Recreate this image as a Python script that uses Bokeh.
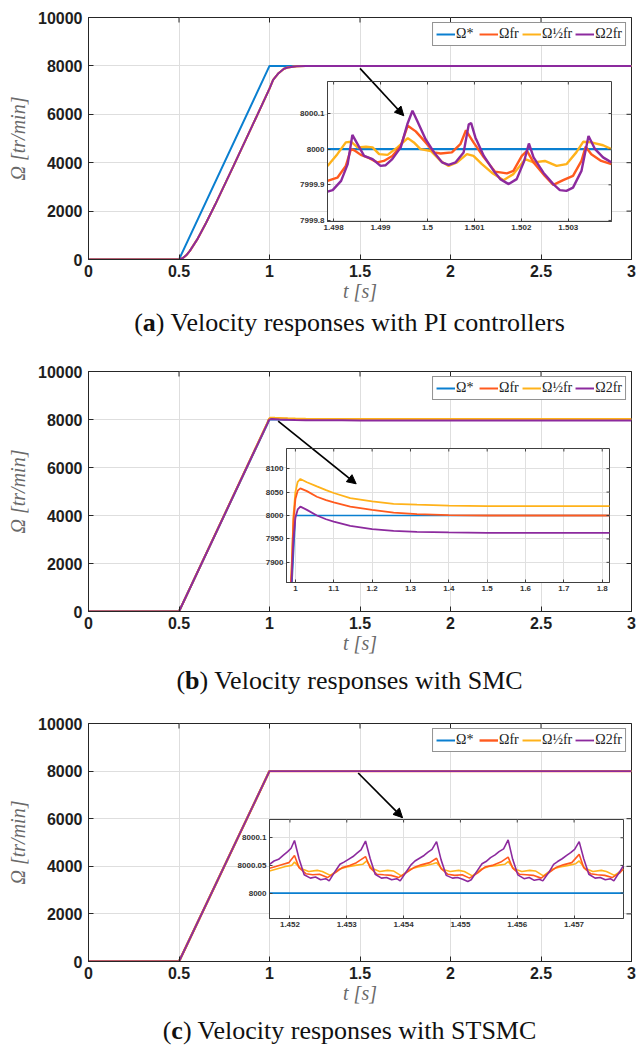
import math
from bokeh.plotting import figure
from bokeh.models import (Range1d, FixedTicker, NumeralTickFormatter,
                          Legend, LegendItem, Arrow, NormalHead, Div)
from bokeh.layouts import column
from bokeh.embed import file_html
from bokeh.resources import INLINE

# ---------------- data ----------------
LEGEND_LABELS = ["Ω*", "Ωfr", "Ω½fr", "Ω2fr"]
CAPTIONS = [("a", "Velocity responses with PI controllers"),
            ("b", "Velocity responses with SMC"),
            ("c", "Velocity responses with STSMC")]
X_TICKS_MAIN = [0, 0.5, 1, 1.5, 2, 2.5, 3]
Y_TICKS_MAIN = [0, 2000, 4000, 6000, 8000, 10000]

# reference speed (all panels)
t_ref = [0, 0.5, 1.0, 3.0]
omega_ref = [0, 0, 8000, 8000]

# panel (a) main view: PI responses (three curves overlap at this scale)
t_a_main = [0, 0.5, 0.52, 0.54, 0.56, 0.6, 0.65, 0.7, 0.8, 0.9, 1.0, 1.02, 1.05,
            1.08, 1.1, 1.15, 1.2, 1.3, 3.0]
omega_a_main = [0, 0, 50, 175, 355, 820, 1520, 2270, 3850, 5450, 7060, 7420, 7700,
                7880, 7935, 7985, 7997, 8000, 8000]

# panel (a) zoom
a_xticks = [1.498, 1.499, 1.5, 1.501, 1.502, 1.503]
a_yticks = [7999.8, 7999.9, 8000.0, 8000.1]
a_t_2fr = [1.49787, 1.49798, 1.49816, 1.4983, 1.4984, 1.49851, 1.49865, 1.49883, 1.499, 1.49911,
           1.49925, 1.49943, 1.49957, 1.49968, 1.49978, 1.49996, 1.50014, 1.50031, 1.50045, 1.5006,
           1.50077, 1.50088, 1.50093, 1.50102, 1.5012, 1.50141, 1.50155, 1.50173, 1.5019, 1.50206,
           1.50216, 1.50226, 1.50247, 1.50268, 1.50282, 1.50296, 1.5031, 1.50328, 1.50343, 1.50357,
           1.50374, 1.50392]
a_2fr = [7999.881, 7999.885, 7999.911, 7999.958, 8000.040, 8000.014, 7999.981, 7999.972, 7999.953, 7999.955,
         7999.972, 8000.005, 8000.070, 8000.108, 8000.080, 8000.028, 7999.991, 7999.963, 7999.956, 7999.963,
         7999.991, 8000.070, 8000.073, 8000.033, 7999.981, 7999.939, 7999.916, 7999.902, 7999.916, 7999.967,
         8000.016, 7999.977, 7999.934, 7999.902, 7999.885, 7999.883, 7999.892, 7999.939, 8000.037, 8000.0,
         7999.977, 7999.963]
a_t_fr = [1.49787, 1.49808, 1.49826, 1.49837, 1.49844, 1.49858, 1.49876, 1.49893, 1.49907, 1.49925,
          1.49943, 1.49958, 1.49975, 1.49996, 1.50014, 1.50028, 1.50052, 1.5007, 1.50082, 1.50098,
          1.5012, 1.50144, 1.50169, 1.50183, 1.50201, 1.50212, 1.50226, 1.5025, 1.50268, 1.50289,
          1.5031, 1.50328, 1.50337, 1.50349, 1.5037, 1.50392]
a_fr = [7999.911, 7999.920, 7999.953, 8000.0, 7999.997, 7999.984, 7999.975, 7999.963, 7999.967, 7999.981,
        8000.009, 8000.066, 8000.050, 8000.019, 7999.991, 7999.988, 7999.991, 8000.014, 8000.053, 8000.019,
        7999.977, 7999.937, 7999.932, 7999.939, 7999.981, 7999.995, 7999.963, 7999.925, 7999.900, 7999.913,
        7999.925, 7999.967, 8000.007, 7999.986, 7999.967, 7999.958]
a_t_half = [1.49787, 1.49808, 1.49826, 1.49837, 1.49851, 1.49869, 1.49883, 1.49897, 1.49915, 1.49936,
            1.49958, 1.49971, 1.49985, 1.50007, 1.50028, 1.50045, 1.50063, 1.50084, 1.50098, 1.50116,
            1.50137, 1.50162, 1.50183, 1.50208, 1.50226, 1.5025, 1.50275, 1.50296, 1.50317, 1.50332,
            1.50349, 1.50374, 1.50392]
a_half = [7999.953, 7999.986, 8000.019, 8000.021, 8000.005, 8000.007, 8000.005, 7999.986, 7999.984, 8000.005,
          8000.031, 8000.019, 8000.0, 7999.995, 7999.967, 7999.953, 7999.963, 7999.986, 7999.981, 7999.958,
          7999.934, 7999.913, 7999.930, 7999.972, 7999.963, 7999.967, 7999.953, 7999.958, 7999.991, 8000.021,
          8000.019, 8000.011, 8000.0]

# panel (b): SMC responses (main view and zoom share the data)
b_xticks = [1.0, 1.1, 1.2, 1.3, 1.4, 1.5, 1.6, 1.7, 1.8]
b_yticks = [7900, 7950, 8000, 8050, 8100]
t_b = [0, 0.5, 0.99, 0.995, 1.0, 1.006, 1.013, 1.03, 1.056, 1.08, 1.1, 1.143, 1.2, 1.256,
       1.317, 1.4, 1.5, 1.6, 1.82, 3.0]
b_fr = [0, 0, 7880, 7990, 8035, 8053, 8058, 8052, 8040, 8033, 8028, 8019, 8012, 8006,
        8003, 8001, 8000, 8000, 8000, 8000]
b_half = [0, 0, 7885, 8000, 8050, 8072, 8078, 8071, 8062, 8054, 8048, 8037, 8030, 8025,
          8023, 8021, 8020, 8020, 8020, 8020]
b_2fr = [0, 0, 7860, 7950, 7995, 8013, 8019, 8012, 8000, 7992, 7987, 7978, 7971, 7967,
         7965, 7964, 7963, 7963, 7963, 7963]

# panel (c) main view: STSMC responses overlap the reference
omega_c_main = [0, 0, 8000, 8000]

# panel (c) zoom
c_xticks = [1.452, 1.453, 1.454, 1.455, 1.456, 1.457]
c_yticks = [8000.0, 8000.05, 8000.1]
c_t_2fr = [1.45164, 1.45172, 1.45180, 1.45188, 1.45196, 1.45202, 1.45208,
           1.45216, 1.45225, 1.45236, 1.45245, 1.45254, 1.45263, 1.45269, 1.45280, 1.45288, 1.45295,
           1.45303, 1.45311, 1.45318, 1.45325, 1.45333,
           1.45341, 1.45350, 1.45361, 1.45370, 1.45379, 1.45388, 1.45394, 1.45405, 1.45413, 1.45420,
           1.45428, 1.45436, 1.45443, 1.45450, 1.45458,
           1.45466, 1.45475, 1.45486, 1.45495, 1.45504, 1.45513, 1.45519, 1.45530, 1.45538, 1.45545,
           1.45553, 1.45561, 1.45568, 1.45576, 1.45584,
           1.45592, 1.45601, 1.45612, 1.45621, 1.45630, 1.45639, 1.45645, 1.45656, 1.45664, 1.45671,
           1.45679, 1.45687, 1.45694, 1.45701, 1.45709,
           1.45717, 1.45726, 1.45737, 1.45746, 1.45755, 1.45764, 1.45770, 1.45780, 1.45787]
c_2fr = [8000.052, 8000.058, 8000.061, 8000.068, 8000.075, 8000.081, 8000.095,
         8000.062, 8000.033, 8000.027, 8000.029, 8000.024, 8000.026, 8000.022, 8000.040, 8000.052, 8000.056,
         8000.061, 8000.066, 8000.072, 8000.078, 8000.094,
         8000.063, 8000.034, 8000.027, 8000.028, 8000.024, 8000.026, 8000.022, 8000.039, 8000.051, 8000.058,
         8000.063, 8000.068, 8000.074, 8000.079, 8000.093,
         8000.060, 8000.032, 8000.027, 8000.028, 8000.025, 8000.021, 8000.024, 8000.041, 8000.053, 8000.057,
         8000.064, 8000.069, 8000.075, 8000.080, 8000.096,
         8000.061, 8000.033, 8000.026, 8000.028, 8000.023, 8000.025, 8000.022, 8000.038, 8000.052, 8000.057,
         8000.062, 8000.068, 8000.073, 8000.079, 8000.093,
         8000.062, 8000.034, 8000.027, 8000.028, 8000.024, 8000.026, 8000.022, 8000.038, 8000.050]
c_t_fr = [1.45164, 1.45175, 1.45188, 1.45198, 1.45208,
          1.45216, 1.45228, 1.45240, 1.45252, 1.45266, 1.45280, 1.45292, 1.45305, 1.45317, 1.45333,
          1.45341, 1.45353, 1.45365, 1.45378, 1.45391, 1.45405, 1.45418, 1.45431, 1.45446, 1.45458,
          1.45466, 1.45478, 1.45490, 1.45503, 1.45516, 1.45530, 1.45543, 1.45556, 1.45571, 1.45584,
          1.45592, 1.45604, 1.45616, 1.45628, 1.45642, 1.45656, 1.45668, 1.45681, 1.45696, 1.45709,
          1.45717, 1.45729, 1.45741, 1.45754, 1.45767, 1.45780, 1.45787]
c_fr = [8000.045, 8000.048, 8000.052, 8000.055, 8000.068,
        8000.046, 8000.035, 8000.033, 8000.034, 8000.028, 8000.037, 8000.046, 8000.050, 8000.055, 8000.066,
        8000.046, 8000.034, 8000.033, 8000.032, 8000.028, 8000.037, 8000.046, 8000.051, 8000.055, 8000.063,
        8000.044, 8000.034, 8000.032, 8000.033, 8000.027, 8000.036, 8000.047, 8000.050, 8000.056, 8000.065,
        8000.045, 8000.034, 8000.033, 8000.032, 8000.027, 8000.037, 8000.046, 8000.051, 8000.055, 8000.070,
        8000.046, 8000.035, 8000.033, 8000.032, 8000.028, 8000.036, 8000.044]
c_t_half = [1.45164, 1.45178, 1.45192, 1.45203, 1.45208,
            1.45218, 1.45233, 1.45248, 1.45257, 1.45271, 1.45286, 1.45300, 1.45315, 1.45328, 1.45335,
            1.45344, 1.45358, 1.45372, 1.45382, 1.45396, 1.45411, 1.45425, 1.45440, 1.45452, 1.45458,
            1.45468, 1.45482, 1.45497, 1.45507, 1.45521, 1.45536, 1.45550, 1.45565, 1.45578, 1.45584,
            1.45594, 1.45608, 1.45622, 1.45632, 1.45646, 1.45661, 1.45675, 1.45690, 1.45703, 1.45709,
            1.45719, 1.45733, 1.45748, 1.45757, 1.45771, 1.45787]
c_half = [8000.040, 8000.044, 8000.048, 8000.050, 8000.056,
          8000.045, 8000.039, 8000.041, 8000.039, 8000.032, 8000.043, 8000.047, 8000.050, 8000.052, 8000.058,
          8000.045, 8000.039, 8000.041, 8000.040, 8000.031, 8000.043, 8000.047, 8000.050, 8000.053, 8000.055,
          8000.043, 8000.039, 8000.041, 8000.039, 8000.031, 8000.043, 8000.048, 8000.050, 8000.052, 8000.057,
          8000.044, 8000.039, 8000.041, 8000.040, 8000.031, 8000.043, 8000.047, 8000.050, 8000.053, 8000.058,
          8000.045, 8000.039, 8000.041, 8000.039, 8000.032, 8000.043]

# arrows (main-axis coordinates): start t, start Ω, end t, end Ω
arrow_a = [1.50, 7900, 1.742, 5940]
arrow_b = [1.048, 7930, 1.479, 5320]
arrow_c = [1.49, 7920, 1.735, 6045]

# ---------------- style ----------------
BLUE, RED, YELLOW, PURPLE = "#0a7fd0", "#ff5a1e", "#ffb21a", "#8c2a9e"
DARK = "#262626"
GRID = "#dedede"
LEFT, RIGHT = 88, 6          # shared border widths (column aligns plot frames)
FW = 637 - LEFT - RIGHT


def box_ticks(p, xt, yt, xr, yr, tick_len, color):
    # MATLAB "box on" ticks along the top and right frame edges (clipped to the frame)
    p.scatter(xt, [yr[1]] * len(xt), marker="dash", size=2 * tick_len, angle=math.pi / 2,
              line_color=color, line_width=1)
    p.scatter([xr[1]] * len(yt), yt, marker="dash", size=2 * tick_len,
              line_color=color, line_width=1)


def make_main(g, curves, arrow, caption):
    h_main = g["top"] + g["fh"] + 50
    p = figure(frame_width=FW, frame_height=g["fh"],
               min_border_left=LEFT, min_border_right=RIGHT,
               min_border_top=g["top"], min_border_bottom=50,
               x_range=Range1d(0, 3), y_range=Range1d(0, 10000),
               output_backend="svg", toolbar_location=None, margin=(0, 0, 0, 0))
    p.outline_line_color = DARK
    p.grid.grid_line_color = GRID
    p.xaxis.ticker = FixedTicker(ticks=X_TICKS_MAIN)
    p.yaxis.ticker = FixedTicker(ticks=Y_TICKS_MAIN)
    p.xaxis.formatter = NumeralTickFormatter(format="0.[0]")
    p.yaxis.formatter = NumeralTickFormatter(format="0")
    for ax in p.xaxis + p.yaxis:
        ax.major_label_text_font = "Liberation Sans"
        ax.major_label_text_font_style = "bold"
        ax.major_label_text_font_size = "16px"
        ax.major_label_text_color = "#1e1e1e"
        ax.major_tick_in = 5
        ax.major_tick_out = 0
        ax.minor_tick_line_color = None
        ax.axis_line_color = DARK
        ax.major_tick_line_color = DARK
        ax.axis_label_text_font = "Liberation Serif"
        ax.axis_label_text_font_style = "italic"
        ax.axis_label_text_font_size = "20px"
        ax.axis_label_text_color = "#6a6a6a"
    p.xaxis.major_label_standoff = 5
    p.xaxis.axis_label_standoff = 0
    p.yaxis.major_label_standoff = 6
    p.yaxis.axis_label_standoff = 6
    p.xaxis.axis_label = "t [s]"
    p.yaxis.axis_label = "Ω [tr/min]"
    box_ticks(p, X_TICKS_MAIN, Y_TICKS_MAIN, (0, 3), (0, 10000), 5, DARK)

    rends = []
    for (tx, vy, col, lw) in curves:
        rends.append(p.line(tx, vy, line_color=col, line_width=lw))
    legend = Legend(items=[LegendItem(label=lab, renderers=[r]) for lab, r in zip(LEGEND_LABELS, rends)],
                    orientation="horizontal", location="top_right", margin=5, padding=3,
                    spacing=3, label_standoff=1, glyph_width=19, glyph_height=16, label_height=16,
                    label_text_font="Liberation Serif", label_text_font_size="14px",
                    label_text_color="#222222",
                    border_line_color=DARK, border_line_width=1, background_fill_alpha=1)
    p.add_layout(legend)
    p.add_layout(Arrow(x_start=arrow[0], y_start=arrow[1], x_end=arrow[2], y_end=arrow[3],
                       line_width=1.7, line_color="black",
                       end=NormalHead(size=9, fill_color="black", line_color="black")))

    # inset (same border widths so the column's frame alignment leaves it in place)
    ins = g["inset"]
    fx = lambda px: (px - LEFT) / FW * 3.0
    fy = lambda py: (g["top"] + g["fh"] - py) / g["fh"] * 10000.0
    q = figure(frame_width=ins["w"], frame_height=ins["h"],
               min_border_left=LEFT, min_border_right=RIGHT, min_border_top=2, min_border_bottom=16,
               x_range=Range1d(*ins["xr"]), y_range=Range1d(*ins["yr"]),
               output_backend="svg", toolbar_location=None,
               margin=(ins["t"] - 2 - h_main, 0, 0, ins["l"] - LEFT))
    q.border_fill_alpha = 0
    q.background_fill_color = "white"
    q.outline_line_color = "#404040"
    q.grid.grid_line_color = "#e0e0e0"
    q.extra_x_ranges = {"main": Range1d(fx(ins["l"]), fx(ins["l"] + ins["w"]))}
    q.extra_y_ranges = {"main": Range1d(fy(ins["t"] + ins["h"]), fy(ins["t"]))}
    q.xaxis.ticker = FixedTicker(ticks=ins["xt"])
    q.yaxis.ticker = FixedTicker(ticks=ins["yt"])
    q.xaxis.formatter = NumeralTickFormatter(format=ins["xf"])
    q.yaxis.formatter = NumeralTickFormatter(format=ins["yf"])
    for ax in q.xaxis + q.yaxis:
        ax.major_label_text_font = "Liberation Sans"
        ax.major_label_text_font_style = "bold"
        ax.major_label_text_font_size = "8px"
        ax.major_label_text_color = "#333333"
        ax.major_tick_in = 3
        ax.major_tick_out = 0
        ax.minor_tick_line_color = None
        ax.axis_line_color = "#404040"
        ax.major_tick_line_color = "#404040"
        ax.major_label_standoff = 3
    for (tx, vy, col, lw) in ins["curves"]:
        q.line(tx, vy, line_color=col, line_width=lw)
    box_ticks(q, ins["xt"], ins["yt"], ins["xr"], ins["yr"], 3, "#404040")
    q.add_layout(Arrow(x_start=arrow[0], y_start=arrow[1], x_end=arrow[2], y_end=arrow[3],
                       x_range_name="main", y_range_name="main",
                       line_width=1.7, line_color="black",
                       end=NormalHead(size=9, fill_color="black", line_color="black")))

    after_inset = ins["t"] - 2 + ins["h"] + 18
    letter, text = caption
    html = ('<div style="font-family:\'Liberation Serif\',serif;font-size:26px;line-height:26px;'
            'padding-top:%dpx;padding-left:62px;box-sizing:border-box;text-align:center;width:637px;'
            'white-space:nowrap;color:#111111">(<b>%s</b>) %s</div>' % (g["cap_pad"], letter, text))
    cap = Div(text=html, width=637, height=g["cap_h"], margin=(h_main - after_inset, 0, 0, 0))
    return [p, q, cap]


geo_a = dict(top=17, fh=242, cap_pad=1, cap_h=34,
             inset=dict(l=327, t=81, w=284, h=140,
                        xr=(1.49787, 1.50392), yr=(7999.797, 8000.19),
                        xt=a_xticks, yt=a_yticks, xf="0.[000]", yf="0.[0]",
                        curves=[(t_ref, omega_ref, BLUE, 2.2), (a_t_half, a_half, YELLOW, 2.4),
                                (a_t_fr, a_fr, RED, 2.4), (a_t_2fr, a_2fr, PURPLE, 2.4)]))
geo_b = dict(top=28, fh=240, cap_pad=7, cap_h=40,
             inset=dict(l=286, t=105, w=323, h=134,
                        xr=(0.9768, 1.819), yr=(7857, 8143),
                        xt=b_xticks, yt=b_yticks, xf="0.[0]", yf="0",
                        curves=[(t_ref, omega_ref, BLUE, 1.6), (t_b, b_half, YELLOW, 1.8),
                                (t_b, b_fr, RED, 1.8), (t_b, b_2fr, PURPLE, 1.8)]))
geo_c = dict(top=22, fh=238, cap_pad=7, cap_h=36,
             inset=dict(l=269, t=118, w=354, h=99,
                        xr=(1.45164, 1.45787), yr=(7999.954, 8000.133),
                        xt=c_xticks, yt=c_yticks, xf="0.[000]", yf="0.[00]",
                        curves=[(t_ref, omega_ref, BLUE, 1.8), (c_t_half, c_half, YELLOW, 1.6),
                                (c_t_fr, c_fr, RED, 1.6), (c_t_2fr, c_2fr, PURPLE, 1.6)]))

curves_a = [(t_ref, omega_ref, BLUE, 2), (t_a_main, omega_a_main, RED, 2),
            (t_a_main, omega_a_main, YELLOW, 2), (t_a_main, omega_a_main, PURPLE, 2)]
curves_b = [(t_ref, omega_ref, BLUE, 2), (t_b, b_fr, RED, 2),
            (t_b, b_half, YELLOW, 2), (t_b, b_2fr, PURPLE, 2)]
curves_c = [(t_ref, omega_ref, BLUE, 2), (t_ref, omega_c_main, RED, 2.4),
            (t_ref, omega_c_main, YELLOW, 2), (t_ref, omega_c_main, PURPLE, 1.8)]

children = (make_main(geo_a, curves_a, arrow_a, CAPTIONS[0])
            + make_main(geo_b, curves_b, arrow_b, CAPTIONS[1])
            + make_main(geo_c, curves_c, arrow_c, CAPTIONS[2]))

layout = column(children, spacing=0)
open("out.html", "w").write(file_html(layout, INLINE))
